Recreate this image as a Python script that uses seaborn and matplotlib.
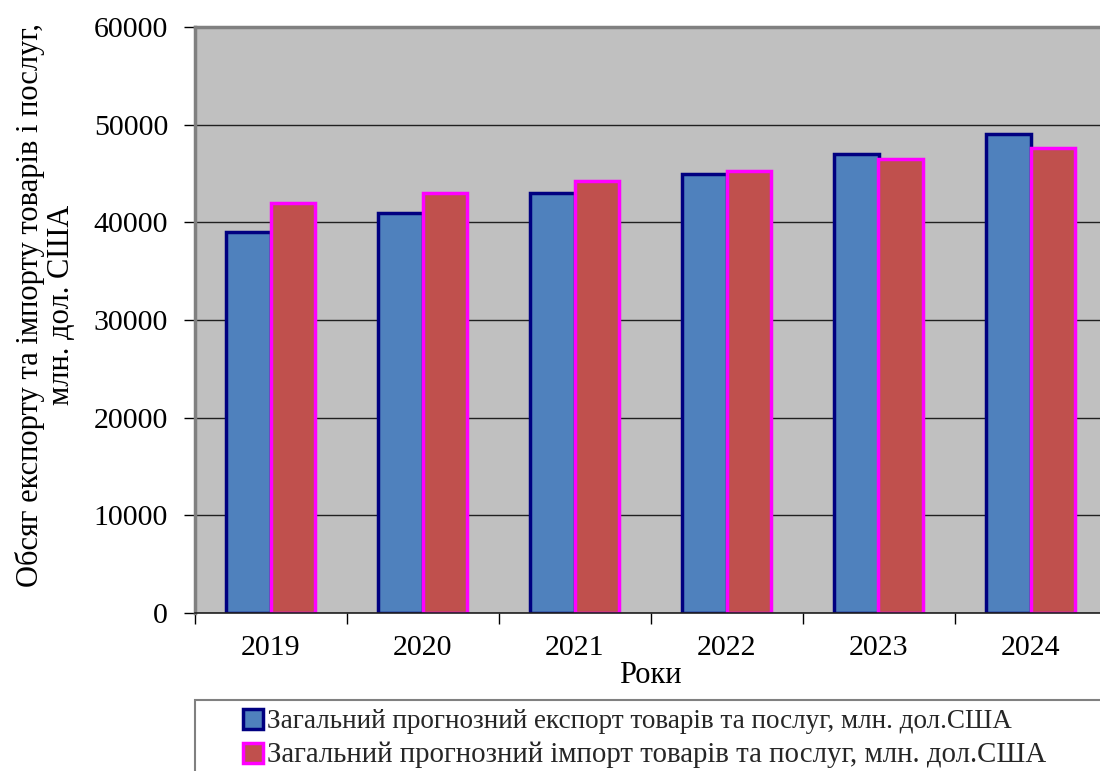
import matplotlib
matplotlib.use("Agg")
import matplotlib.pyplot as plt
import seaborn as sns
import pandas as pd
from matplotlib.patches import Rectangle, Patch

years = ["2019", "2020", "2021", "2022", "2023", "2024"]
export_vals = [39000, 41000, 43000, 45000, 47000, 49000]
import_vals = [42000, 43000, 44200, 45300, 46500, 47600]
series_names = ["Загальний прогнозний експорт товарів та послуг, млн. дол.США",
                "Загальний прогнозний імпорт товарів та послуг, млн. дол.США"]
y_ticks = [0, 10000, 20000, 30000, 40000, 50000, 60000]

df = pd.DataFrame({
    "year": years * 2,
    "value": export_vals + import_vals,
    "series": [series_names[0]] * len(years) + [series_names[1]] * len(years),
})

sns.set_theme(style="white")
plt.rcParams["font.family"] = ["Liberation Serif", "DejaVu Serif"]

fills = ["#4F81BD", "#C0504D"]
edges = ["#000080", "#FF00FF"]

fig = plt.figure(figsize=(11, 7.71), dpi=100)
W, H = 1100, 771
ax = fig.add_axes([194.5 / W, (H - 613) / H, 912 / W, 586 / H])
ax.set_facecolor("#C0C0C0")

sns.barplot(data=df, x="year", y="value", hue="series", palette=fills,
            width=0.586, ax=ax, legend=False, saturation=1)
for cont, ec in zip(ax.containers, edges):
    for p in cont:
        p.set_edgecolor(ec)
        p.set_linewidth(2.5)

ax.set_ylim(0, 60000)
ax.set_xlim(-0.5, 5.5)
ax.set_yticks(y_ticks)
ax.set_yticklabels([str(v) for v in y_ticks], fontsize=21.5, color="black")
ax.yaxis.grid(True, color="#202020", linewidth=1)
ax.set_axisbelow(True)
ax.tick_params(axis="y", which="both", left=True, length=8, width=1, color="black", direction="out", pad=11)

ax.set_xticks(range(len(years)))
ax.set_xticklabels(years, fontsize=21.5, color="black")
ax.set_xticks([i + 0.5 for i in range(-1, len(years))], minor=True)
ax.tick_params(axis="x", which="major", bottom=False, length=0, pad=16)
ax.tick_params(axis="x", which="minor", bottom=True, length=8, width=1, color="black", direction="out")

for s in ["left", "top"]:
    ax.spines[s].set_visible(True)
    ax.spines[s].set_color("#808080")
    ax.spines[s].set_linewidth(2.5)
ax.spines["bottom"].set_color("#202020")
ax.spines["bottom"].set_linewidth(1.2)
ax.spines["right"].set_visible(False)

ax.set_xlabel("Роки", fontsize=22, color="black", labelpad=0)
ax.set_ylabel("Обсяг експорту та імпорту товарів і послуг,\nмлн. дол. США", fontsize=22,
              color="black", linespacing=1.1, labelpad=12.5)
ax.yaxis.label.set_y(0.526)

# legend frame
fig.patches.append(Rectangle((195 / W, -0.05), 1000 / W, (H - 700) / H + 0.05, transform=fig.transFigure,
                             facecolor="white", edgecolor="#808080", linewidth=1.5, zorder=0))
handles = [Patch(facecolor=f, edgecolor=e, linewidth=2.5) for f, e in zip(fills, edges)]
leg = fig.legend(handles, series_names, loc="upper left", bbox_to_anchor=(243 / W, (H - 709) / H),
                 frameon=False, fontsize=19.5, handlelength=0.75, handleheight=0.75,
                 handletextpad=0.12, labelspacing=0.28, borderaxespad=0, borderpad=0)
leg.get_texts()[1].set_fontsize(20.8)

fig.savefig("out.png", dpi=100)
